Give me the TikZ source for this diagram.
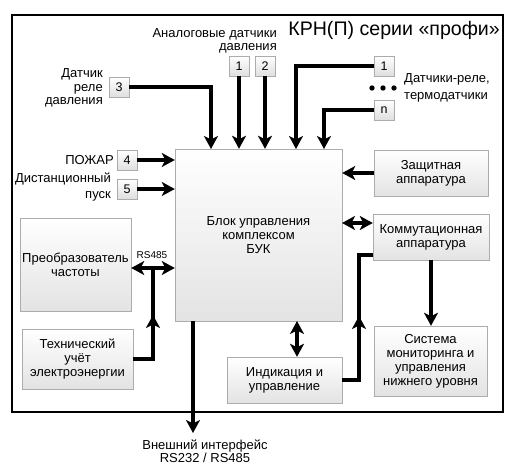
\documentclass[tikz,border=0pt]{standalone}
\usepackage{fontspec}
\setmainfont{Liberation Sans}
\usetikzlibrary{arrows.meta}

\tikzset{
	blk/.style={draw=gray!65, top color=white, bottom color=gray!22, align=center, inner sep=2pt, font=\fontsize{13}{14}\selectfont},
	num/.style={draw=gray!65, top color=white, bottom color=gray!25, minimum width=20pt, minimum height=20pt, inner sep=0pt, font=\fontsize{12.5}{13}\selectfont},
	lbl/.style={inner sep=0pt, font=\fontsize{13}{13.5}\selectfont},
	wire/.style={line width=3.8pt},
	conn/.style={wire, -{Stealth[length=13pt, width=14pt, inset=3.5pt]}},
	both/.style={wire, {Stealth[length=13pt, width=14pt, inset=3.5pt]}-{Stealth[length=13pt, width=14pt, inset=3.5pt]}}
}

\begin{document}
\begin{tikzpicture}[x=1pt, y=-1pt]
	\useasboundingbox (0,0) rectangle (514,473);
	\draw[line width=1.2pt] (12,15) rectangle (503,412);

	\node[anchor=east, inner sep=0pt, font=\fontsize{19.6}{22}\selectfont] (title) at (500,30) {КРН(П) серии «профи»};

	% blocks
	\node[blk, minimum width=167pt, minimum height=172pt] (buk) at (258.5,235) {Блок управления\\комплексом\\БУК};
	\node[blk, minimum width=111pt, minimum height=93pt] (conv) at (75.5,264.5) {Преобразователь\\частоты};
	\node[blk, minimum width=111pt, minimum height=60pt] (tech) at (77.5,359) {Технический\\учёт\\электроэнергии};
	\node[blk, minimum width=115pt, minimum height=46pt] (ind) at (284.5,380) {Индикация и\\управление};
	\node[blk, minimum width=114pt, minimum height=46pt] (prot) at (431,173) {Защитная\\аппаратура};
	\node[blk, minimum width=116pt, minimum height=46pt] (comm) at (431,237) {Коммутационная\\аппаратура};
	\node[blk, minimum width=113pt, minimum height=70pt] (mon) at (430.5,361) {Система\\мониторинга и\\управления\\нижнего уровня};

	% inputs
	\node[num] (a1) at (239,66) {1};
	\node[num] (a2) at (265,66) {2};
	\node[num] (s3) at (119,87) {3};
	\node[num] (s4) at (127,160) {4};
	\node[num] (s5) at (127,189) {5};
	\node[num] (r1) at (384,66) {1};
	\node[num] (rn) at (384,110) {n};

	\node[lbl, anchor=east, align=right] (lana) at (277,41) {Аналоговые датчики\\давления};
	\node[lbl, anchor=east, align=right] (lrel) at (103,88) {Датчик\\реле\\давления};
	\node[lbl, anchor=east] (lfire) at (114,160) {ПОЖАР};
	\node[lbl, anchor=east, align=right] (lrem) at (111,187) {Дистанционный\\[3pt]пуск};
	\node[lbl, anchor=west, align=left] (lterm) at (404,88) {Датчики-реле,\\[3pt]термодатчики};
	\node[lbl, align=center] (lext) at (205,451) {Внешний интерфейс\\RS232 / RS485};
	\node[inner sep=0pt, font=\fontsize{10}{11}\selectfont] (lrs) at (152,255) {RS485};

	\foreach \x in {372,383,394}
		\fill (\x,88) circle (2.7pt);

	% connectors
	\coordinate (e3) at (211,149);
	\coordinate (er1) at (296,149);
	\coordinate (ern) at (324,149);
	\coordinate (ec) at (342,223);
	\coordinate (eb) at (297,321);
	\coordinate (ex) at (193,433);
	\coordinate (rs) at (153,268);
	\coordinate (tu) at (153,315);
	\coordinate (iu) at (359,316);

	\draw[conn] (s3.east) -| (e3);
	\draw[conn] (a1.south) -- (a1.south |- buk.north);
	\draw[conn] (a2.south) -- (a2.south |- buk.north);
	\draw[conn] (r1.west) -| (er1);
	\draw[conn] (rn.west) -| (ern);
	\draw[conn] (s4.east) -- (s4.east -| buk.west);
	\draw[conn] (s5.east) -- (s5.east -| buk.west);
	\draw[conn] (prot.west) -- (prot.west -| buk.east);
	\draw[both] (ec) -- (ec -| comm.west);
	\draw[conn] (comm.south) -- (comm.south |- mon.north);
	\draw[both] (eb) -- (eb |- ind.north);
	\draw[conn] (ex |- buk.south) -- (ex);

	\draw[both] (rs -| conv.east) -- (rs -| buk.west);
	\draw[wire] (tech.east) -| (rs);
	\draw[conn] ([yshift=-15pt]tu) -- (tu);

	\draw[wire] (ind.east) -| (iu) |- ([yshift=-18pt]comm.west);
	\draw[conn] ([yshift=-15pt]iu) -- (iu);
\end{tikzpicture}
\end{document}
